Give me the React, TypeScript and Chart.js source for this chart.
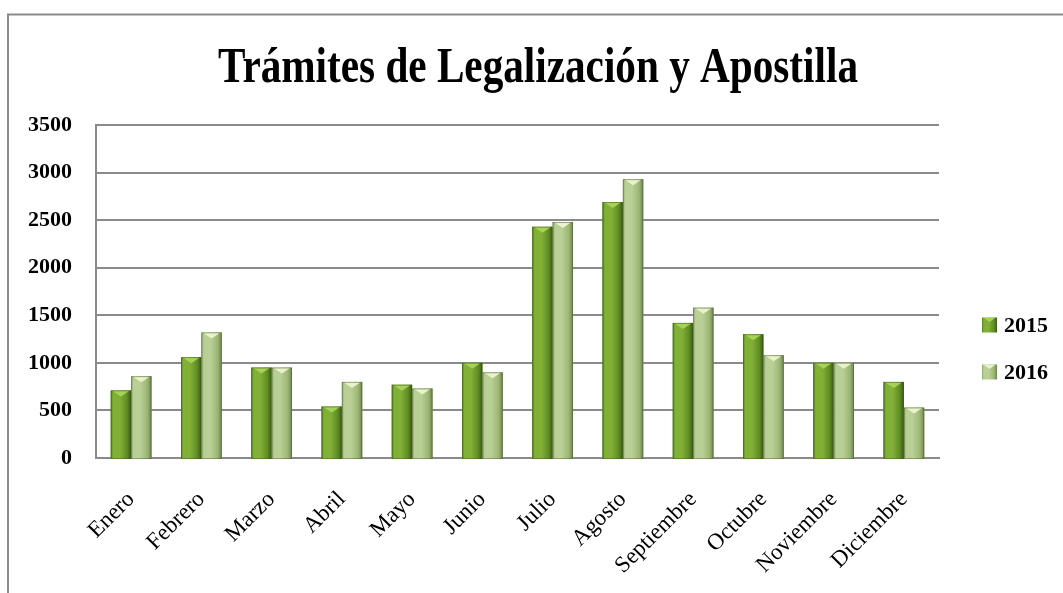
import React, { useEffect, useRef } from 'react';
import { Chart, registerables } from 'chart.js';

Chart.register(...registerables);

const TITLE = 'Trámites de Legalización y Apostilla';
const MONTHS = ['Enero', 'Febrero', 'Marzo', 'Abril', 'Mayo', 'Junio', 'Julio', 'Agosto', 'Septiembre', 'Octubre', 'Noviembre', 'Diciembre'];
const SERIES_LABELS = ['2015', '2016'];
const VALUES_2015 = [710, 1060, 950, 540, 770, 1000, 2430, 2690, 1420, 1300, 1000, 800];
const VALUES_2016 = [860, 1320, 950, 800, 730, 900, 2480, 2930, 1580, 1080, 1000, 530];
const Y_MIN = 0;
const Y_MAX = 3500;
const Y_STEP = 500;

const PALETTES = [
  { base: '#6f9e2c', edgeL: '#52801c', light: '#80b036', dark: '#5f8c24', edgeR: '#3b5a16', cap: '#a6d255' },
  { base: '#a5bf7c', edgeL: '#8ea56c', light: '#b9cf95', dark: '#9cb574', edgeR: '#6d8350', cap: '#e8f3cc' },
];

const FONT = '"Liberation Serif", "Times New Roman", serif';

function barGradient(ctx: CanvasRenderingContext2D, left: number, right: number, p: any) {
  const g = ctx.createLinearGradient(left, 0, right, 0);
  g.addColorStop(0, p.edgeL);
  g.addColorStop(0.12, p.light);
  g.addColorStop(0.45, p.light);
  g.addColorStop(0.8, p.dark);
  g.addColorStop(1, p.edgeR);
  return g;
}

const decorPlugin = {
  id: 'decor',
  beforeDraw(chart: any) {
    const ctx = chart.ctx as CanvasRenderingContext2D;
    ctx.save();
    ctx.fillStyle = '#ffffff';
    ctx.fillRect(0, 0, chart.width, chart.height);
    ctx.strokeStyle = '#8c8c8c';
    ctx.lineWidth = 2;
    ctx.strokeRect(8, 14.5, chart.width + 20, chart.height + 20);
    ctx.restore();
  },
  afterDatasetsDraw(chart: any) {
    const ctx = chart.ctx as CanvasRenderingContext2D;
    ctx.save();
    chart.data.datasets.forEach((ds: any, i: number) => {
      const meta = chart.getDatasetMeta(i);
      const p = PALETTES[i];
      meta.data.forEach((el: any) => {
        const { x, y, base, width } = el.getProps(['x', 'y', 'base', 'width'], true);
        const left = x - width / 2;
        const right = x + width / 2;
        ctx.fillStyle = barGradient(ctx, left, right, p);
        ctx.fillRect(left, y, width, base - y + 2);
        ctx.fillStyle = p.cap;
        ctx.beginPath();
        ctx.moveTo(left + 2, y + 0.5);
        ctx.lineTo(right - 2, y + 0.5);
        ctx.lineTo(x, y + 6);
        ctx.closePath();
        ctx.fill();
        ctx.strokeStyle = 'rgba(50,70,25,0.35)';
        ctx.lineWidth = 1;
        ctx.strokeRect(left + 0.5, y + 0.5, width - 1, base - y + 1);
      });
    });
    ctx.restore();
  },
  afterDraw(chart: any) {
    const ctx = chart.ctx as CanvasRenderingContext2D;
    ctx.save();
    ctx.font = `bold 50px ${FONT}`;
    const w = ctx.measureText(TITLE).width;
    const sx = 640 / w;
    ctx.translate(538, 82);
    ctx.scale(sx, 1);
    ctx.fillStyle = '#000';
    ctx.textAlign = 'center';
    ctx.textBaseline = 'alphabetic';
    ctx.fillText(TITLE, 0, 0);
    ctx.restore();

    ctx.save();
    chart.data.datasets.forEach((ds: any, i: number) => {
      const cy = 325 + i * 47;
      const p = PALETTES[i];
      ctx.fillStyle = barGradient(ctx, 982, 997, p);
      ctx.fillRect(982, cy - 7.5, 15, 15);
      ctx.fillStyle = p.cap;
      ctx.beginPath();
      ctx.moveTo(984, cy - 7);
      ctx.lineTo(995, cy - 7);
      ctx.lineTo(989.5, cy - 3);
      ctx.closePath();
      ctx.fill();
      ctx.font = `bold 22px ${FONT}`;
      ctx.fillStyle = '#000';
      ctx.textAlign = 'left';
      ctx.textBaseline = 'middle';
      ctx.fillText(ds.label, 1004, cy + 1);
    });
    ctx.restore();
  },
};

export default function App() {
  const ref = useRef<HTMLCanvasElement | null>(null);

  useEffect(() => {
    if (!ref.current) return;
    const chart = new Chart(ref.current, {
      type: 'bar',
      data: {
        labels: MONTHS,
        datasets: [
          { label: SERIES_LABELS[0], data: VALUES_2015, backgroundColor: PALETTES[0].base, borderWidth: 0 },
          { label: SERIES_LABELS[1], data: VALUES_2016, backgroundColor: PALETTES[1].base, borderWidth: 0 },
        ],
      },
      options: {
        responsive: false,
        animation: false,
        events: [],
        layout: { padding: { left: 0, top: 125, right: 124, bottom: 0 } },
        datasets: { bar: { categoryPercentage: 0.58, barPercentage: 1.0 } },
        plugins: {
          legend: { display: false },
          title: { display: false },
          tooltip: { enabled: false },
        },
        scales: {
          x: {
            grid: { display: false },
            border: { display: true, color: '#8a8a8a', width: 2 },
            ticks: {
              color: '#000',
              font: { family: FONT, size: 23 },
              minRotation: 45,
              maxRotation: 45,
              autoSkip: false,
              padding: 20,
            },
            afterFit: (scale: any) => { scale.height = 135; },
          },
          y: {
            min: Y_MIN,
            max: Y_MAX,
            grid: { color: '#8a8a8a', lineWidth: 2, drawTicks: false },
            border: { display: true, color: '#8a8a8a', width: 2 },
            ticks: {
              stepSize: Y_STEP,
              color: '#000',
              font: { family: FONT, size: 22, weight: 'bold' },
              padding: 24,
              callback: (v: any) => String(v),
            },
            afterFit: (scale: any) => { scale.width = 96; },
          },
        },
      },
      plugins: [decorPlugin],
    });
    return () => chart.destroy();
  }, []);

  return (
    <div style={{ position: 'absolute', left: 0, top: 0, width: 1063, height: 593, background: '#fff' }}>
      <canvas ref={ref} width={1063} height={593} />
    </div>
  );
}
